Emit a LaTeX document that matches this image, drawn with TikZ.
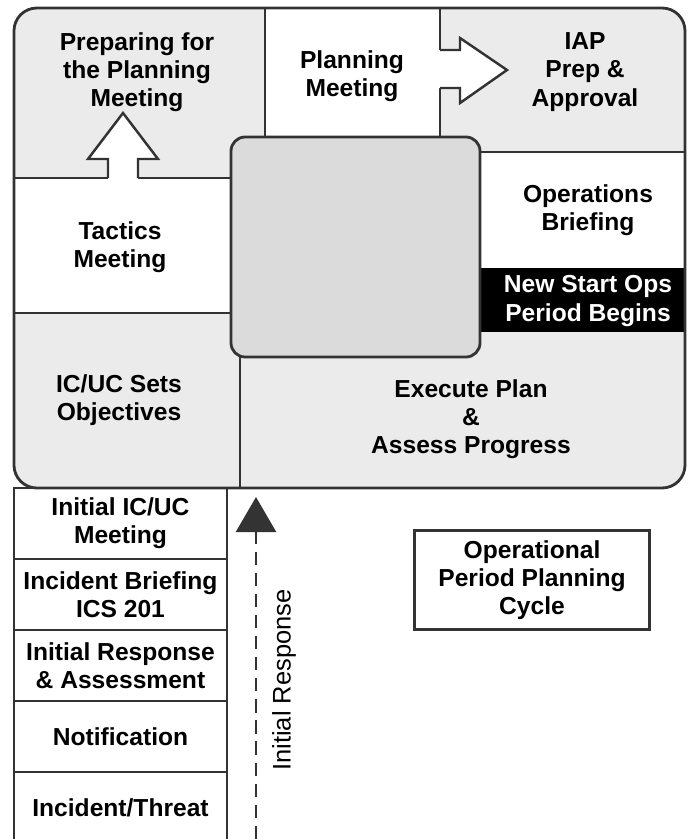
\documentclass[tikz,border=0pt]{standalone}
\usepackage{fontspec}
\setmainfont{Liberation Sans}
\usetikzlibrary{positioning,arrows.meta}

\definecolor{lightcell}{HTML}{EBEBEB}
\definecolor{hubgray}{HTML}{DBDBDB}
\definecolor{edge}{HTML}{333333}

\tikzset{
	lbl/.style={font=\bfseries\fontsize{14}{16}\selectfont, align=center, text=black},
	stackbox/.style={lbl, draw=edge, line width=1.5pt, minimum width=4.26cm, minimum height=1.42cm, outer sep=0pt, inner sep=0pt},
	divider/.style={draw=edge, line width=1.4pt},
	blockarrow/.style={draw=edge, line width=1.4pt, line join=miter},
}

\begin{document}
\begin{tikzpicture}[x=0.02cm, y=-0.02cm]
	\useasboundingbox (0,0) rectangle (687,839);
	% cycle frame and its cells
	\fill[lightcell, rounded corners=13pt] (14,8) rectangle (685,488);
	\fill[white] (265,8) rectangle (440,137);
	\fill[white] (14,178) rectangle (231,313);
	\fill[white] (480,152) rectangle (685,268);
	\fill[black] (480,268) rectangle (685,332);
	\draw[divider] (265,8) -- (265,137) (440,8) -- (440,137);
	\draw[divider] (14,178) -- (231,178) (14,313) -- (231,313);
	\draw[divider] (480,152) -- (685,152);
	\draw[divider] (240,357) -- (240,488);
	\draw[edge, line width=1.6pt, rounded corners=13pt] (14,8) rectangle (685,488);
	\draw[edge, fill=hubgray, line width=1.6pt, rounded corners=8pt] (231,137) rectangle (480,357);
	% block arrows
	\fill[white] (108,181) -- (108,159) -- (88,159) -- (123,113) -- (158,159) -- (138,159) -- (138,181) -- cycle;
	\draw[blockarrow] (108,178) -- (108,159) -- (88,159) -- (123,113) -- (158,159) -- (138,159) -- (138,178);
	\fill[white] (437,50) -- (460,50) -- (460,38) -- (507,70) -- (460,103) -- (460,88) -- (437,88) -- cycle;
	\draw[blockarrow] (440,50) -- (460,50) -- (460,38) -- (507,70) -- (460,103) -- (460,88) -- (440,88);

	\node[lbl] (prep) at (137,72) {Preparing for\\the Planning\\Meeting};
	\node[lbl] (plan) at (352,76) {Planning\\Meeting};
	\node[lbl] (iap) at (585,72) {IAP\\Prep \&\\Approval};
	\node[lbl] (tactics) at (120,247) {Tactics\\Meeting};
	\node[lbl] (opsbrief) at (588,210) {Operations\\Briefing};
	\node[lbl, text=white] (newops) at (588,301) {New Start Ops\\Period Begins};
	\node[lbl] (objectives) at (119,400) {IC/UC Sets\\Objectives};
	\node[lbl] (execute) at (471,419) {Execute Plan\\\&\\Assess Progress};

	% initial response steps
	\node[stackbox] (icuc) at (120.5,523.5) {Initial IC/UC\\Meeting};
	\node[stackbox, below=0pt of icuc] (briefing) {Incident Briefing\\ICS 201};
	\node[stackbox, below=0pt of briefing] (response) {Initial Response\\\& Assessment};
	\node[stackbox, below=0pt of response] (notify) {Notification};
	\node[stackbox, below=0pt of notify] (threat) {Incident/Threat};

	\coordinate (respstart) at (256,839);
	\coordinate (resptip) at (256,497);
	\draw[edge, line width=1.4pt, dash pattern=on 7.5pt off 4.5pt, -{Triangle[width=0.8cm, length=0.7cm]}] (respstart) -- (resptip);
	\node[rotate=90, font=\fontsize{14.5}{16}\selectfont] (resplbl) at (284,680) {Initial Response};

	\node[lbl, draw=edge, line width=1.6pt, minimum width=4.7cm, minimum height=1.98cm] (cycle) at (532,580) {Operational\\Period Planning\\Cycle};
\end{tikzpicture}
\end{document}
